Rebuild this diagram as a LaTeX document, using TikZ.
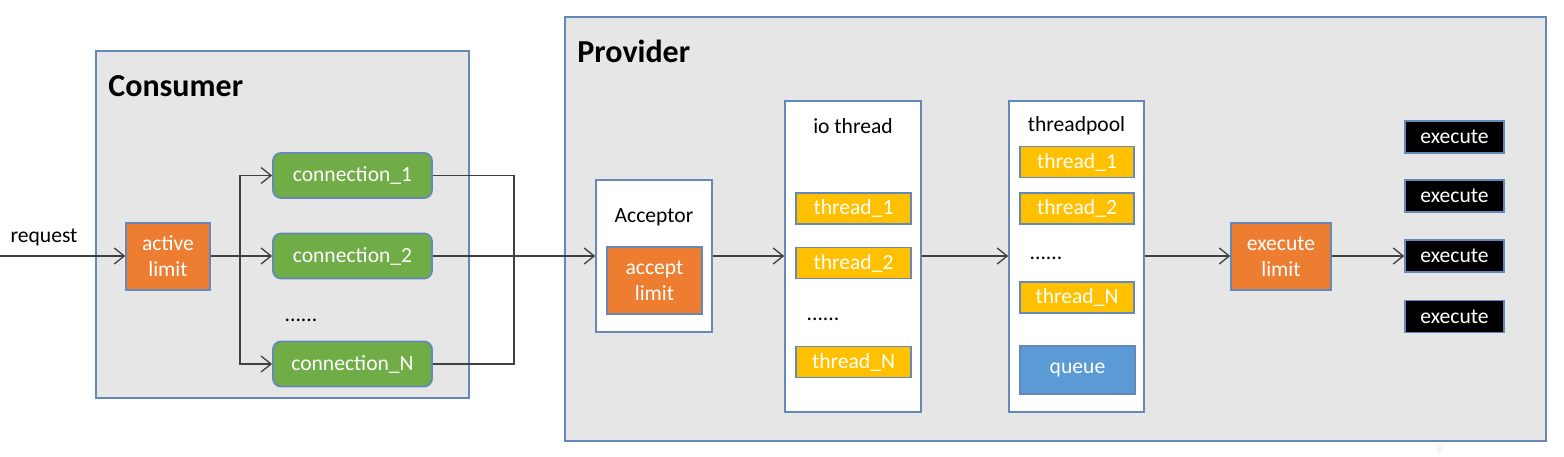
\documentclass[tikz,border=0pt]{standalone}
\usepackage{fontspec}
\setmainfont{Carlito}
\usepackage{tikz}
\usetikzlibrary{arrows.meta, positioning, calc}
\usepackage{xcolor}
\definecolor{panelgray}{HTML}{E6E6E6}
\definecolor{edgeblue}{HTML}{6489B8}
\definecolor{limorange}{HTML}{ED7D31}
\definecolor{conngreen}{HTML}{70AD47}
\definecolor{thryellow}{HTML}{FFC000}
\definecolor{queueblue}{HTML}{5B9BD5}
\definecolor{flowgray}{HTML}{404040}

\tikzset{
  txt/.style={font=\fontsize{10.8}{13}\selectfont},
  panel/.style={draw=edgeblue, fill=panelgray, line width=0.8pt, inner sep=0pt},
  lane/.style={draw=edgeblue, fill=white, line width=0.8pt, inner sep=0pt},
  limitbox/.style={txt, draw=edgeblue, line width=0.7pt, fill=limorange, text=white,
                   align=center, inner sep=0pt, minimum height=33.5pt},
  connbox/.style={txt, draw=edgeblue, line width=0.9pt, fill=conngreen, text=white,
                  rounded corners=4pt, inner sep=0pt, minimum width=79.5pt, minimum height=22.5pt},
  thrbox/.style={txt, draw=edgeblue, line width=0.7pt, fill=thryellow, text=white,
                 inner sep=0pt, minimum height=15.5pt},
  execbox/.style={txt, draw=edgeblue, line width=0.7pt, fill=black, text=white,
                  inner sep=0pt, minimum width=49.5pt, minimum height=16pt},
  flow/.style={draw=flowgray, line width=0.65pt},
  flowarr/.style={flow, -{Straight Barb[length=5pt, width=8pt]}}
}

\begin{document}
\begin{tikzpicture}[x=0.5pt, y=-0.5pt]
  \useasboundingbox (0,0) rectangle (1564,456);

  \node[panel, minimum width=186.5pt, minimum height=173.5pt] (consumer) at (282.5,224.5) {};
  \node[panel, minimum width=490.5pt, minimum height=212pt] (provider) at (1055.5,229) {};
  \node[font=\fontsize{16}{19}\bfseries, anchor=west, inner sep=0pt] (conslbl) at (108,86) {Consumer};
  \node[font=\fontsize{16}{19}\bfseries, anchor=west, inner sep=0pt] (provlbl) at (577,51) {Provider};

  \node[txt] (reqlbl) at (44,237) {request};
  \coordinate (reqin) at (0,256);
  \node[limitbox, minimum width=42pt] (actlim) at (168,256.5) {active\\limit};

  \node[connbox] (conn1) at (352.5,175.5) {connection\_1};
  \node[connbox] (conn2) at (352.5,256) {connection\_2};
  \node[connbox] (connN) at (352.5,364) {connection\_N};
  \node[txt] (conndots) at (301,320) {......};
  \coordinate (split) at (240,256);
  \coordinate (join) at (514,256);

  \node[lane, minimum width=58pt, minimum height=76pt] (acceptor) at (654,256) {};
  \node[txt] (acclbl) at (654,217) {Acceptor};
  \node[limitbox, minimum width=47.5pt] (acclim) at (654.5,280.5) {accept\\limit};

  \node[lane, minimum width=68pt, minimum height=155.5pt] (iothr) at (853,256.5) {};
  \node[txt] (iolbl) at (853,126) {io thread};
  \node[thrbox, minimum width=57.5pt] (io1) at (853.5,208.5) {thread\_1};
  \node[thrbox, minimum width=57.5pt] (io2) at (853.5,263) {thread\_2};
  \node[txt] (iodots) at (823,319) {......};
  \node[thrbox, minimum width=57.5pt] (ioN) at (853.5,362) {thread\_N};

  \node[lane, minimum width=67.5pt, minimum height=155.5pt] (pool) at (1076.5,256.5) {};
  \node[txt] (poollbl) at (1076.5,126) {threadpool};
  \node[thrbox, minimum width=57pt] (pt1) at (1077,162) {thread\_1};
  \node[thrbox, minimum width=57pt] (pt2) at (1077,208.5) {thread\_2};
  \node[txt] (pooldots) at (1046,258) {......};
  \node[thrbox, minimum width=57pt] (ptN) at (1077,297.5) {thread\_N};
  \node[txt, draw=edgeblue, line width=0.7pt, fill=queueblue, text=white, inner sep=0pt,
        minimum width=57.5pt, minimum height=24pt] (queue) at (1077.5,370) {queue};

  \node[limitbox, minimum width=50pt] (exlim) at (1281,256.5) {execute\\limit};
  \node[execbox] (ex1) at (1454.5,137) {execute};
  \node[execbox] (ex2) at (1454.5,196) {execute};
  \node[execbox] (ex3) at (1454.5,256) {execute};
  \node[execbox] (ex4) at (1454.5,316.5) {execute};

  \node[font=\fontsize{6.5}{8}\selectfont, text=gray!15] (pagenum) at (1440,449) {8};

  \draw[flowarr] (reqin) -- (reqin -| actlim.west);
  \draw[flowarr] (actlim.east |- split) -- (split -| conn2.west);
  \draw[flowarr] (split) |- (conn1.west);
  \draw[flowarr] (split) |- (connN.west);
  \draw[flow] (conn1.east) -| (join) |- (connN.east);
  \draw[flowarr] (conn2.east) -- (acceptor.west |- conn2.east);
  \draw[flowarr] (acceptor.east) -- (iothr.west |- acceptor.east);
  \draw[flowarr] (iothr.east |- acceptor.east) -- (pool.west |- acceptor.east);
  \draw[flowarr] (pool.east |- acceptor.east) -- (exlim.west |- acceptor.east);
  \draw[flowarr] (exlim.east |- ex3) -- (ex3.west);
\end{tikzpicture}
\end{document}
